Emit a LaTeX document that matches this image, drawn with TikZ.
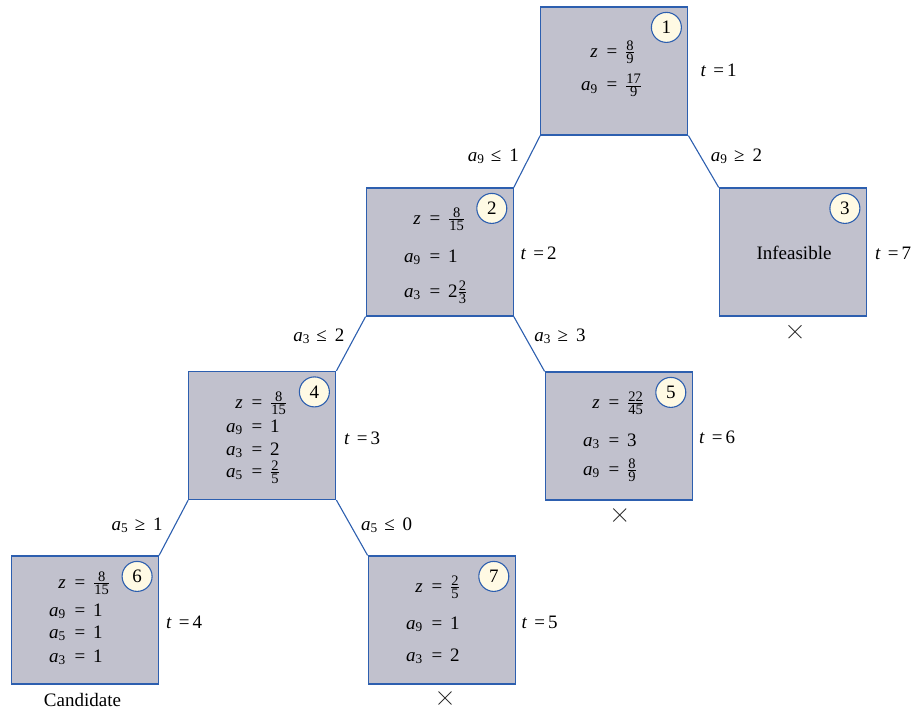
\documentclass[tikz,border=0pt]{standalone}
\usepackage{amsmath}
\usepackage{fontspec}
\setmainfont{Liberation Serif}
\usetikzlibrary{calc,shapes.misc}
\definecolor{boxfill}{RGB}{193,193,205}
\definecolor{edgeblue}{RGB}{45,95,175}
\definecolor{cream}{RGB}{255,250,228}
\newcommand\frd[1]{\mbox{\fontsize{14.5}{14.5}\selectfont #1}}
\newcommand\fr[2]{$\frac{\frd{#1}}{\frd{#2}}$}
\newcommand\va[1]{\textit{a}\textsubscript{#1}}
\newcommand\vz{\textit{z}}
\newcommand\tlab[1]{\textit{t}\hspace{7pt}=\hspace{3pt}#1}
\newcommand\rel[3]{#1\hspace{6.5pt}#2\hspace{8pt}#3}
\newcommand\eqrow[5]{%
  \node[rowtext, anchor=base east] (#1l) at (#2-14,#3+5) {#4};
  \node[rowtext, anchor=base] (#1e) at (#2,#3+5) {=};
  \node[rowtext, anchor=base west] (#1r) at (#2+13,#3+5) {#5};}
\tikzset{
  box/.style={draw=edgeblue, fill=boxfill, line width=1.2pt, minimum width=147pt, minimum height=128pt, inner sep=0pt},
  num/.style={circle, draw=edgeblue, fill=cream, line width=1.1pt, minimum size=30pt, inner sep=0pt},
  edge/.style={draw=edgeblue, line width=1.1pt},
  rowtext/.style={inner sep=0pt},
  tl/.style={inner sep=0pt, anchor=base west},
  el/.style={inner sep=0pt, anchor=base},
  xmark/.style={cross out, draw=black!80, line width=0.9pt, minimum size=12pt, inner sep=0pt},
}
\begin{document}
\begin{tikzpicture}[x=1pt, y=-1pt, every node/.style={font=\fontsize{19}{23}\selectfont}]
\useasboundingbox (0,0) rectangle (916,710);
% boxes
\node[box] (n1) at (614.3,71) {};
\node[box] (n2) at (439.7,252) {};
\node[box] (n3) at (792.8,252) {};
\node[box] (n4) at (262.3,435.5) {};
\node[box] (n5) at (618.7,436) {};
\node[box] (n6) at (85,620) {};
\node[box] (n7) at (441.7,620) {};
% connectors
\draw[edge] (n1.south west) -- (n2.north east);
\draw[edge] (n1.south east) -- (n3.north west);
\draw[edge] (n2.south west) -- (n4.north east);
\draw[edge] (n2.south east) -- (n5.north west);
\draw[edge] (n4.south west) -- (n6.north east);
\draw[edge] (n4.south east) -- (n7.north west);
% number circles
\node[num] (c1) at ($(n1.north east)+(-22,21)$) {1};
\node[num] (c2) at ($(n2.north east)+(-22,21)$) {2};
\node[num] (c3) at ($(n3.north east)+(-22,21)$) {3};
\node[num] (c4) at ($(n4.north east)+(-22,21)$) {4};
\node[num] (c5) at ($(n5.north east)+(-22,21)$) {5};
\node[num] (c6) at ($(n6.north east)+(-22,21)$) {6};
\node[num] (c7) at ($(n7.north east)+(-22,21)$) {7};
% contents
\eqrow{r1a}{612}{52}{\vz}{\fr{8}{9}}
\eqrow{r1b}{612}{85.5}{\va{9}}{\fr{17}{9}}
\eqrow{r2a}{435}{219}{\vz}{\fr{8}{15}}
\eqrow{r2b}{435}{257}{\va{9}}{1}
\eqrow{r2c}{435}{292}{\va{3}}{2\fr{2}{3}}
\node[el] (inf) at (794,259) {Infeasible};
\eqrow{r4a}{257}{403}{\vz}{\fr{8}{15}}
\eqrow{r4b}{257}{427}{\va{9}}{1}
\eqrow{r4c}{257}{450}{\va{3}}{2}
\eqrow{r4d}{257}{472}{\va{5}}{\fr{2}{5}}
\eqrow{r5a}{614}{403}{\vz}{\fr{22}{45}}
\eqrow{r5b}{614}{441}{\va{3}}{3}
\eqrow{r5c}{614}{470}{\va{9}}{\fr{8}{9}}
\eqrow{r6a}{80}{583}{\vz}{\fr{8}{15}}
\eqrow{r6b}{80}{611}{\va{9}}{1}
\eqrow{r6c}{80}{633}{\va{5}}{1}
\eqrow{r6d}{80}{657}{\va{3}}{1}
\eqrow{r7a}{437}{587}{\vz}{\fr{2}{5}}
\eqrow{r7b}{437}{624}{\va{9}}{1}
\eqrow{r7c}{437}{656}{\va{3}}{2}
% t labels
\node[tl] (t1) at (700.5,76.7) {\tlab{1}};
\node[tl] (t2) at (520.5,259) {\tlab{2}};
\node[tl] (t3) at (875,259) {\tlab{7}};
\node[tl] (t4) at (344,444) {\tlab{3}};
\node[tl] (t5) at (699,443) {\tlab{6}};
\node[tl] (t6) at (166,628) {\tlab{4}};
\node[tl] (t7) at (521.5,628) {\tlab{5}};
% edge labels
\node[el] (e12) at (493.3,161) {\rel{\va{9}}{≤}{1}};
\node[el] (e13) at (736.5,161) {\rel{\va{9}}{≥}{2}};
\node[el] (e24) at (318.8,341) {\rel{\va{3}}{≤}{2}};
\node[el] (e25) at (560,341) {\rel{\va{3}}{≥}{3}};
\node[el] (e46) at (137.2,530) {\rel{\va{5}}{≥}{1}};
\node[el] (e47) at (386.7,530) {\rel{\va{5}}{≤}{0}};
% marks
\node[xmark] (x3) at (795,331.7) {};
\node[xmark] (x5) at (619.7,515) {};
\node[xmark] (x7) at (445,698) {};
\node[el] (cand) at (82.5,706) {Candidate};
\end{tikzpicture}
\end{document}
